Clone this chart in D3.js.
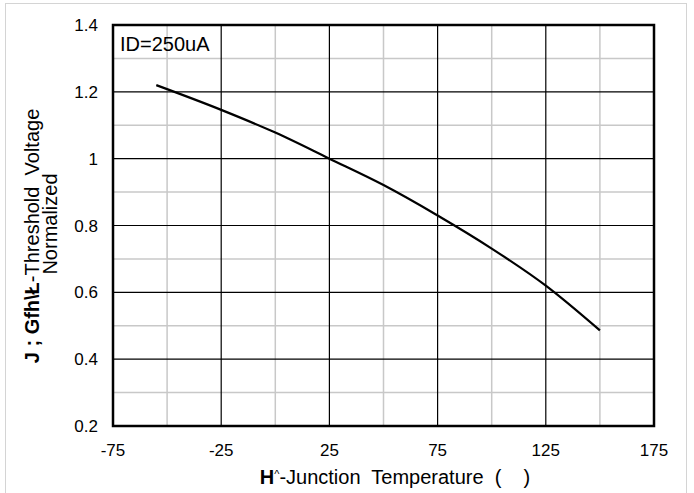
<!DOCTYPE html>
<html>
<head>
<meta charset="utf-8">
<script src="https://cdn.jsdelivr.net/npm/d3@7"></script>
<style>
  html, body { margin: 0; padding: 0; background: #fff; }
  svg { display: block; font-family: "Liberation Sans", Arial, sans-serif; }
</style>
</head>
<body>
<svg id="chart" width="694" height="493"></svg>
<script>
// Normalized gate threshold voltage vs. junction temperature
const temperatures = [-55, -25, 0, 25, 50, 75, 100, 125, 150];
const thresholdNorm = [1.22, 1.146, 1.078, 1.0, 0.921, 0.83, 0.731, 0.62, 0.486];
const xTicks = [-75, -25, 25, 75, 125, 175];
const xMinor = [-50, 0, 50, 100, 150];
const yTicks = [0.2, 0.4, 0.6, 0.8, 1.0, 1.2, 1.4];
const yMinor = [0.3, 0.5, 0.7, 0.9, 1.1, 1.3];
const yTickLabels = ["0.2", "0.4", "0.6", "0.8", "1", "1.2", "1.4"];

const svg = d3.select("#chart");
const plot = { left: 113, top: 25, right: 654, bottom: 426 };

// outer frame
svg.append("rect")
  .attr("x", 5.5).attr("y", 3.5)
  .attr("width", 681).attr("height", 500)
  .attr("fill", "none").attr("stroke", "#d4d4d4").attr("stroke-width", 1);

const x = d3.scaleLinear().domain([-75, 175]).range([plot.left, plot.right]);
const y = d3.scaleLinear().domain([0.2, 1.4]).range([plot.bottom, plot.top]);

const g = svg.append("g");

// minor grid
g.selectAll(".vminor").data(xMinor).join("line")
  .attr("x1", d => x(d)).attr("x2", d => x(d))
  .attr("y1", plot.top).attr("y2", plot.bottom)
  .attr("stroke", "#c8c8c8").attr("stroke-width", 1.5);
g.selectAll(".hminor").data(yMinor).join("line")
  .attr("x1", plot.left).attr("x2", plot.right)
  .attr("y1", d => y(d)).attr("y2", d => y(d))
  .attr("stroke", "#c8c8c8").attr("stroke-width", 1.5);

// major grid
g.selectAll(".vmajor").data(xTicks).join("line")
  .attr("x1", d => x(d)).attr("x2", d => x(d))
  .attr("y1", plot.top).attr("y2", plot.bottom)
  .attr("stroke", "#000").attr("stroke-width", 1.2);
g.selectAll(".hmajor").data(yTicks).join("line")
  .attr("x1", plot.left).attr("x2", plot.right)
  .attr("y1", d => y(d)).attr("y2", d => y(d))
  .attr("stroke", "#000").attr("stroke-width", 1.2);

// curve
const line = d3.line()
  .x((d, i) => x(temperatures[i]))
  .y(d => y(d))
  .curve(d3.curveMonotoneX);
g.append("path")
  .datum(thresholdNorm)
  .attr("d", line)
  .attr("fill", "none")
  .attr("stroke", "#000")
  .attr("stroke-width", 2.2);

// plot border
g.append("rect")
  .attr("x", plot.left).attr("y", plot.top)
  .attr("width", plot.right - plot.left).attr("height", plot.bottom - plot.top)
  .attr("fill", "none").attr("stroke", "#000").attr("stroke-width", 2.5);

// tick labels
svg.selectAll(".xl").data(xTicks).join("text")
  .attr("x", d => x(d)).attr("y", 456)
  .attr("text-anchor", "middle")
  .attr("font-size", 17)
  .attr("fill", "#000")
  .text(d => d);
svg.selectAll(".yl").data(yTicks).join("text")
  .attr("x", 98).attr("y", d => y(d) + 6)
  .attr("text-anchor", "end")
  .attr("font-size", 17)
  .attr("fill", "#000")
  .text((d, i) => yTickLabels[i]);

// condition note
svg.append("text")
  .attr("x", 120).attr("y", 51)
  .attr("font-size", 20)
  .attr("fill", "#000")
  .text("ID=250uA");

// x axis title
const xt = svg.append("text")
  .attr("x", 395).attr("y", 484)
  .attr("text-anchor", "middle")
  .attr("font-size", 20)
  .attr("fill", "#000")
  .style("white-space", "pre");
xt.append("tspan").attr("font-weight", "bold").text("H");
xt.append("tspan").attr("font-size", 11).attr("dy", -6).text("^");
xt.append("tspan").attr("dy", 6).text("-Junction  Temperature  (    )");

// y axis title (two lines)
const yt = svg.append("text")
  .attr("transform", "translate(39,236) rotate(-90)")
  .attr("text-anchor", "middle")
  .attr("font-size", 20)
  .attr("fill", "#000")
  .style("white-space", "pre");
yt.append("tspan").attr("font-weight", "bold").text("J ; Gfh\\Ł");
yt.append("tspan").text("-Threshold  Voltage");

svg.append("text")
  .attr("transform", "translate(57,224) rotate(-90)")
  .attr("text-anchor", "middle")
  .attr("font-size", 20)
  .attr("fill", "#000")
  .text("Normalized");
</script>
</body>
</html>
